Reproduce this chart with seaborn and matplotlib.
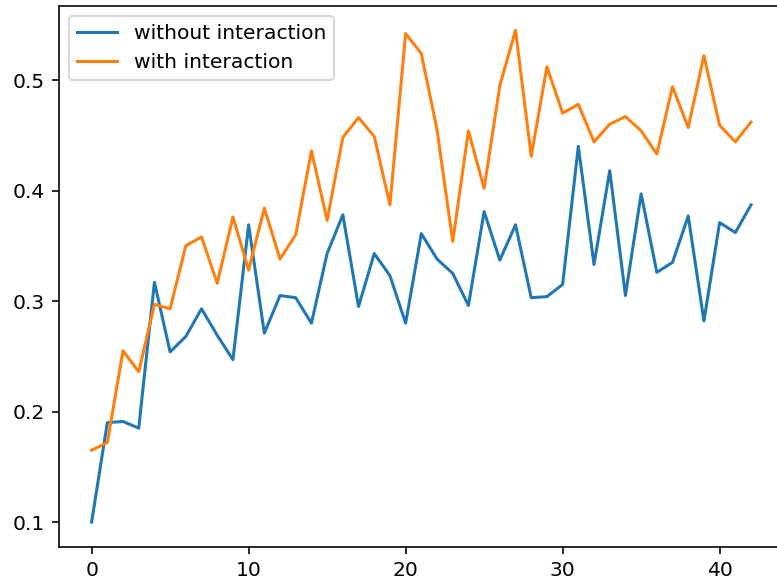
import numpy as np
import pandas as pd
import seaborn as sns
import matplotlib
matplotlib.use("Agg")
import matplotlib.pyplot as plt

# values
without_interaction = [
    0.100, 0.190, 0.191, 0.185, 0.317, 0.254, 0.268, 0.293, 0.269, 0.247,
    0.369, 0.271, 0.305, 0.303, 0.280, 0.343, 0.378, 0.295, 0.343, 0.323,
    0.280, 0.361, 0.338, 0.325, 0.296, 0.381, 0.337, 0.369, 0.303, 0.304,
    0.315, 0.440, 0.333, 0.418, 0.305, 0.397, 0.326, 0.335, 0.377, 0.282,
    0.371, 0.362, 0.387,
]
with_interaction = [
    0.165, 0.172, 0.255, 0.236, 0.297, 0.293, 0.350, 0.358, 0.316, 0.376,
    0.328, 0.384, 0.338, 0.360, 0.436, 0.373, 0.448, 0.466, 0.449, 0.387,
    0.542, 0.524, 0.455, 0.354, 0.454, 0.402, 0.495, 0.545, 0.431, 0.512,
    0.470, 0.478, 0.444, 0.460, 0.467, 0.454, 0.433, 0.494, 0.457, 0.522,
    0.459, 0.444, 0.462,
]
steps = np.arange(len(without_interaction))

df = pd.DataFrame({
    "step": steps,
    "without interaction": without_interaction,
    "with interaction": with_interaction,
})

dpi = 146
fig = plt.figure(figsize=(777 / dpi, 587 / dpi), dpi=dpi)
# the reference is cropped on the right, so the axes run past the figure edge
ax = fig.add_axes([0.0755, 0.0687, 0.9335, 0.9216])

sns.lineplot(data=df, x="step", y="without interaction", ax=ax,
             color="#1f77b4", label="without interaction")
sns.lineplot(data=df, x="step", y="with interaction", ax=ax,
             color="#ff7f0e", label="with interaction")

ax.set_xlabel("")
ax.set_ylabel("")
ax.legend(loc="upper left")

fig.savefig("out.png", dpi=dpi)
